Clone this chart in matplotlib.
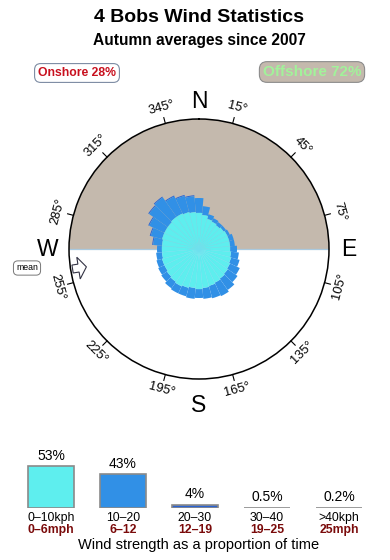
import numpy as np
import matplotlib
matplotlib.use('Agg')
import matplotlib.pyplot as plt
from matplotlib.patches import Polygon

# ============================================================================
# DONNEES
# ============================================================================

title = "4 Bobs Wind Statistics"
subtitle = "Autumn averages since 2007"
onshore_pct = 28
offshore_pct = 72
mean_dir = 261

# rose : 36 secteurs de 10 degres (rayon cumule, cercle exterieur = 130)
directions = np.arange(0, 360, 10)
r_0_10 = [36, 34, 31, 30, 29, 30, 31, 31, 31, 31, 32, 33,
          34, 35, 36, 37, 38, 39, 40, 39, 40, 41, 40, 39,
          38, 38, 37, 37, 37, 38, 38, 38, 39, 39, 38, 37]
r_10_20 = [51, 43, 36, 34, 33, 33, 34, 36, 36, 38, 40, 42,
           45, 47, 50, 52, 51, 50, 49, 50, 49, 49, 48, 46,
           45, 44, 43, 42, 46, 50, 55, 61, 63, 58, 55, 53]
r_20_30 = [51, 43, 36, 34, 33, 33, 34, 36, 36, 38, 40, 42,
           45, 47, 50, 52, 51, 50, 49, 50, 49, 49, 48, 46,
           45, 44, 43, 42, 47, 51, 56, 62, 64, 59, 56, 54]
r_max = 130

degree_labels = [15, 45, 75, 105, 135, 165, 195, 225, 255, 285, 315, 345]
cardinals = ['N', 'E', 'S', 'W']
cardinal_angles = [0, 90, 180, 270]
cardinal_r = [147, 150, 156, 151]

# histogramme des vitesses
speed_pct = [53, 43, 4, 0.5, 0.2]
pct_labels = ['53%', '43%', '4%', '0.5%', '0.2%']
kph_labels = ['0–10kph', '10–20', '20–30', '30–40', '>40kph']
mph_labels = ['0–6mph', '6–12', '12–19', '19–25', '25mph']

# couleurs
c_light = '#5eeeee'
c_mid = '#3190e6'
c_dark = '#2a63d4'
c_tan = '#c4b9ad'
bar_colors = [c_light, c_mid, c_dark, '#cfcfcf', '#cfcfcf']

plt.rcParams['font.family'] = ['Liberation Sans', 'DejaVu Sans']

W, H = 390, 560
fig = plt.figure(figsize=(W / 100, H / 100), dpi=100)

# axe de fond en pixels pour les textes (au-dessus des autres axes)
ax0 = fig.add_axes([0, 0, 1, 1])
ax0.set_xlim(0, W)
ax0.set_ylim(H, 0)
ax0.axis('off')
ax0.set_zorder(10)

ax0.text(199, 17, title, ha='center', va='center', fontsize=14, fontweight='bold')
ax0.text(199, 40, subtitle, ha='center', va='center', fontsize=11.2, fontweight='bold')

ax0.text(77, 73, f"Onshore {onshore_pct}%", ha='center', va='center', fontsize=8.8,
         fontweight='bold', color='#c8101e',
         bbox=dict(boxstyle='round,pad=0.28,rounding_size=0.5', fc='white', ec='#7d8ca3', lw=0.8))
ax0.text(312, 72, f"Offshore {offshore_pct}%", ha='center', va='center', fontsize=11,
         fontweight='bold', color='#a2f29a',
         bbox=dict(boxstyle='round,pad=0.22,rounding_size=0.5', fc=c_tan, ec='#8c8c8c', lw=0.8))

ax0.text(27, 268, 'mean', ha='center', va='center', fontsize=6.3,
         bbox=dict(boxstyle='round,pad=0.3,rounding_size=0.5', fc='white', ec='#777777', lw=0.7))

# ============================================================================
# ROSE DES VENTS
# ============================================================================

cx, cy, R = 199, 249, 130
ax = fig.add_axes([(cx - R) / W, 1 - (cy + R) / H, 2 * R / W, 2 * R / H], projection='polar')
ax.set_theta_zero_location('N')
ax.set_theta_direction(-1)
ax.set_ylim(0, r_max)
ax.set_facecolor('white')
ax.grid(False)
ax.set_xticks([])
ax.set_yticks([])
ax.spines['polar'].set_linewidth(1.1)

# zone offshore (moitie nord)
ax.bar(0, r_max, width=np.pi, bottom=0, color=c_tan, linewidth=0, zorder=0)
ax.plot([np.pi / 2, np.pi / 2], [0, r_max], color='#a9c9df', lw=0.9, zorder=1)
ax.plot([3 * np.pi / 2, 3 * np.pi / 2], [0, r_max], color='#a9c9df', lw=0.9, zorder=1)

theta = np.deg2rad(directions)
width = np.deg2rad(10)
r1 = np.array(r_0_10)
r2 = np.array(r_10_20)
r3 = np.array(r_20_30)
ax.bar(theta, r3 - r2, width=width, bottom=r2, color=c_dark, linewidth=0, zorder=2)
ax.bar(theta, r2 - r1, width=width, bottom=r1, color=c_mid, linewidth=0, zorder=2)
ax.bar(theta, r1, width=width, bottom=0, color=c_light, edgecolor='#72e0ee', lw=0.3, zorder=3)

# graduations et etiquettes en degres
for b in degree_labels:
    t = np.deg2rad(b)
    ax.plot([t, t], [r_max, r_max + 6], color='black', lw=0.8, clip_on=False)
    rot = -b
    if 90 < b < 270:
        rot += 180
    ax.text(t, r_max + 16, f"{b}°", rotation=rot, ha='center', va='center',
            fontsize=9.3, clip_on=False)

for lab, a, rr in zip(cardinals, cardinal_angles, cardinal_r):
    ax.text(np.deg2rad(a), rr, lab, ha='center', va='center', fontsize=16.5, clip_on=False)

# fleche de direction moyenne
u = np.array([np.sin(np.deg2rad(mean_dir)), -np.cos(np.deg2rad(mean_dir))])
inward = -u
perp = np.array([-inward[1], inward[0]])
base = np.array([cx, cy]) + u * (R - 2)
shape = [(0, -4), (6, -4), (6, -11), (14, 0), (6, 11), (6, 4), (0, 4)]
pts = [base + inward * a + perp * b for a, b in shape]
ax0.add_patch(Polygon(pts, closed=True, fc='white', ec='#333344', lw=0.8, zorder=5))

# ============================================================================
# HISTOGRAMME
# ============================================================================

px_per_pct = 0.79
bh = 60
axb = fig.add_axes([15 / W, 52 / H, 360 / W, bh / H])
axb.set_xlim(-0.5, 4.5)
axb.set_ylim(0, bh / px_per_pct)
axb.axis('off')
x = np.arange(len(speed_pct))
axb.bar(x, speed_pct, width=0.64, color=bar_colors, edgecolor='#8a8a8a', lw=1.2)

for i, v in enumerate(speed_pct):
    axb.annotate(pct_labels[i], (i, v), xytext=(0, 2.5), textcoords='offset points',
                 ha='center', va='bottom', fontsize=10, annotation_clip=False)
    axb.annotate(kph_labels[i], (i, 0), xytext=(0, -7.5), textcoords='offset points',
                 ha='center', va='center', fontsize=8.8, annotation_clip=False)
    axb.annotate(mph_labels[i], (i, 0), xytext=(0, -15.5), textcoords='offset points',
                 ha='center', va='center', fontsize=8.8, fontweight='bold',
                 color='#7a0a0a', annotation_clip=False)

ax0.text(199, 545, 'Wind strength as a proportion of time', ha='center', va='center',
         fontsize=10.5)

fig.savefig('out.png', dpi=100)
